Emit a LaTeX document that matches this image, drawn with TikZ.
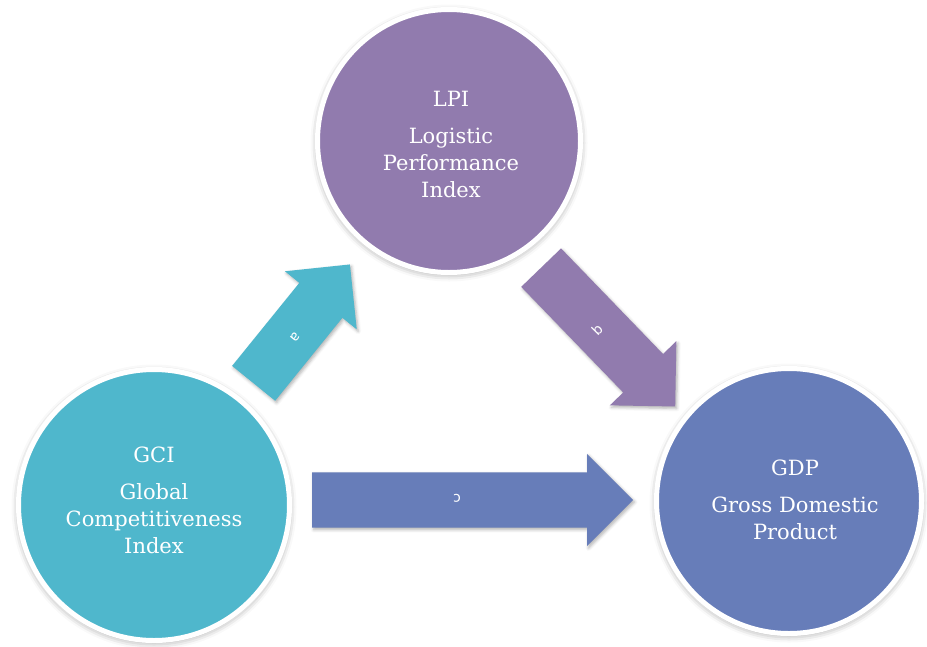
\documentclass[tikz,border=0pt]{standalone}
\usepackage{fontspec}
\setmainfont{DejaVu Serif}
\newfontfamily\tagfont{DejaVu Sans}
\usetikzlibrary{shapes.arrows,shadows.blur}

\definecolor{gcicol}{RGB}{79,183,204}
\definecolor{lpicol}{RGB}{145,123,174}
\definecolor{gdpcol}{RGB}{103,125,185}

\begin{document}
\begin{tikzpicture}[x=1pt,y=-1pt,
  bubble/.style={circle, draw=white, line width=5pt, inner sep=0pt,
    blur shadow={shadow xshift=0pt, shadow yshift=-2pt,
      shadow blur radius=7pt, shadow opacity=40}},
  bubbletext/.style={text=white, align=center, inner sep=0pt,
    font=\fontsize{21}{27}\selectfont},
  blockarrow/.style={single arrow, draw=none, inner xsep=0pt, inner ysep=27.5pt,
    text height=0pt, text depth=0pt, minimum width=92pt,
    single arrow head extend=18.5pt, single arrow tip angle=90,
    blur shadow={shadow xshift=1.5pt, shadow yshift=-2pt,
      shadow blur radius=3pt, shadow opacity=30}},
  tag/.style={text=white, inner sep=0pt, font=\tagfont\fontsize{14}{14}\selectfont}
]
\useasboundingbox (0,0) rectangle (927,646);

% the three indicators
\node[bubble, fill=gcicol, minimum size=271pt] (gci) at (154,505) {};
\node[bubble, fill=lpicol, minimum size=263pt] (lpi) at (449,141) {};
\node[bubble, fill=gdpcol, minimum size=265pt] (gdp) at (789,501) {};

\node[bubbletext] (gcitext) at (154,500) {GCI\\[10pt]Global\\Competitiveness\\Index};
\node[bubbletext] (lpitext) at (451,144) {LPI\\[10pt]Logistic\\Performance\\Index};
\node[bubbletext] (gdptext) at (795,500) {GDP\\[10pt]Gross Domestic\\Product};

% block arrows between the indicators
\node[blockarrow, fill=gcicol, rotate=51, minimum height=153pt, anchor=tail]
  (arra) at (253.5,383.5) {};
\node[blockarrow, fill=lpicol, rotate=-46, minimum height=193pt, anchor=tail]
  (arrb) at (541,267.5) {};
\node[blockarrow, fill=gdpcol, rotate=0, minimum height=321pt, anchor=tail]
  (arrc) at (312,500) {};

\node[tag, rotate=231] (taga) at (295,337) {a};
\node[tag, rotate=45] (tagb) at (597,330) {b};
\node[tag, rotate=180] (tagc) at (457,498) {c};
\end{tikzpicture}
\end{document}
